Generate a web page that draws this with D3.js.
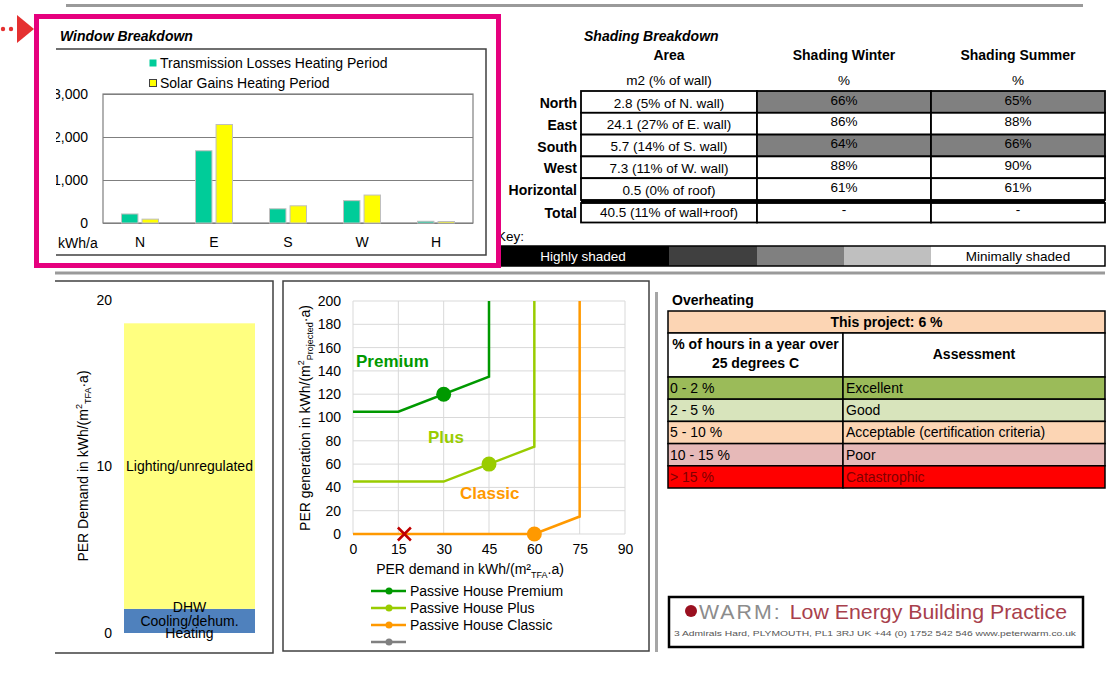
<!DOCTYPE html>
<html><head><meta charset="utf-8">
<script src="https://cdn.jsdelivr.net/npm/d3@7"></script>
<style>
html,body{margin:0;padding:0;background:#fff;}
svg{display:block;font-family:"Liberation Sans",Arial,sans-serif;}
</style></head><body>
<svg id="c" width="1120" height="679"></svg>
<script>
// ---------------- DATA ----------------
const windowCategories = ["N","E","S","W","H"];
const windowSeries = ["Transmission Losses Heating Period","Solar Gains Heating Period"];
const transmissionLosses = [210,1680,330,520,40];
const solarGains = [90,2290,400,650,35];
const windowTicks = [0,1000,2000,3000];

const shadingRows = ["North","East","South","West","Horizontal"];
const shadingArea = ["2.8 (5% of N. wall)","24.1 (27% of E. wall)","5.7 (14% of S. wall)","7.3 (11% of W. wall)","0.5 (0% of roof)"];
const shadingWinter = [66,86,64,88,61];
const shadingSummer = [65,88,66,90,61];
const shadingWinterLevel = [2,4,2,4,4];
const shadingSummerLevel = [2,4,2,4,4];
const shadingTotal = ["40.5 (11% of wall+roof)","-","-"];
const shadingHeaders = ["Area","Shading Winter","Shading Summer"];
const shadingUnits = ["m2 (% of wall)","%","%"];
const keyLabels = ["Highly shaded","","","","Minimally shaded"];
const keyColors = ["#000000","#404040","#808080","#bfbfbf","#ffffff"];

const perDemandCategories = ["Heating","Cooling/dehum.","DHW","Lighting/unregulated"];
const perDemandValues = [0,1.45,0,17.15];
const perDemandColors = ["#c0504d","#4f81bd","#9bbb59","#ffff80"];
const perDemandTicks = [0,10,20];

const premiumDemand = [0,15,45,45];
const premiumGeneration = [105,105,135,200];
const plusDemand = [0,30,60,60];
const plusGeneration = [45,45,75,200];
const classicDemand = [0,60,75,75];
const classicGeneration = [0,0,15,200];
const classMarkerDemand = [30,45,60];
const classMarkerGeneration = [120,60,0];
const projectDemand = [17];
const projectGeneration = [0];
const perXTicks = [0,15,30,45,60,75,90];
const perYTicks = [0,20,40,60,80,100,120,140,160,180,200];
const perClasses = ["Premium","Plus","Classic"];
const perLegend = ["Passive House Premium","Passive House Plus","Passive House Classic",""];

const overheatingProject = 6;
const overheatingRanges = ["0 - 2 %","2 - 5 %","5 - 10 %","10 - 15 %","> 15 %"];
const overheatingAssessment = ["Excellent","Good","Acceptable (certification criteria)","Poor","Catastrophic"];
const overheatingColors = ["#9bbb59","#d8e4bc","#fcd5b4","#e6b9b8","#ff0000"];

// ---------------- DRAW ----------------
const svg = d3.select("#c");
const F = '"Liberation Sans",Arial,sans-serif';

// separators
svg.append("line").attr("x1",66).attr("x2",1083).attr("y1",5.5).attr("y2",5.5).attr("stroke","#9a9a9a").attr("stroke-width",3);
svg.append("line").attr("x1",55).attr("x2",1105).attr("y1",273).attr("y2",273).attr("stroke","#9a9a9a").attr("stroke-width",3);
svg.append("line").attr("x1",656.5).attr("x2",656.5).attr("y1",292).attr("y2",652).attr("stroke","#a6a6a6").attr("stroke-width",3);

// ===== Window breakdown =====
svg.append("defs").append("clipPath").attr("id","wclip").append("rect").attr("x",56).attr("y",0).attr("width",500).attr("height",300);
const wg = svg.append("g").attr("clip-path","url(#wclip)");
wg.append("path").attr("d","M55,49H486V255H55").attr("fill","none").attr("stroke","#404040").attr("stroke-width",1.5);
svg.append("text").attr("x",60).attr("y",41).attr("font-size",14).attr("font-weight","bold").attr("font-style","italic").text("Window Breakdown");

const wx0 = d3.scaleBand().domain(windowCategories).range([103,473]);
const wx1 = d3.scaleBand().domain(windowSeries).range([wx0.bandwidth()*0.25, wx0.bandwidth()*0.75]).paddingInner(0.2);
const wy = d3.scaleLinear().domain([0,3000]).range([223,94]);
const wColors = ["#00cc99","#ffff00"];

const wyAxis = wg.append("g").attr("transform","translate(103,0)")
  .call(d3.axisLeft(wy).tickValues(windowTicks).tickSize(-370).tickPadding(15).tickFormat(d3.format(",")));
wyAxis.select(".domain").remove();
wyAxis.selectAll("line").attr("stroke","#7f7f7f");
wyAxis.selectAll("text").attr("font-size",14).attr("font-family",F).attr("fill","#000");
wg.append("rect").attr("x",103).attr("y",94).attr("width",370).attr("height",129).attr("fill","none").attr("stroke","#7f7f7f").attr("stroke-width",1.2);

const wData = windowCategories.map((c,i)=>({cat:c, vals:[transmissionLosses[i], solarGains[i]]}));
wg.selectAll("g.wbar").data(wData).join("g").attr("class","wbar")
  .attr("transform",d=>`translate(${wx0(d.cat)},0)`)
  .selectAll("rect").data(d=>d.vals.map((v,j)=>({s:windowSeries[j],v,j}))).join("rect")
  .attr("x",d=>wx1(d.s)).attr("width",wx1.bandwidth())
  .attr("y",d=>wy(d.v)).attr("height",d=>wy(0)-wy(d.v))
  .attr("fill",d=>wColors[d.j]).attr("stroke","#bfbfbf").attr("stroke-width",1);

const wxAxis = wg.append("g").attr("transform","translate(0,223)").call(d3.axisBottom(wx0).tickSize(0).tickPadding(14));
wxAxis.select(".domain").remove();
wxAxis.selectAll("text").attr("font-size",14).attr("font-family",F).attr("fill","#000");
wg.append("text").attr("x",58).attr("y",248).attr("font-size",14).text("kWh/a");

windowSeries.forEach((s,i)=>{
  wg.append("rect").attr("x",149.5).attr("y",59.5+20*i).attr("width",7).attr("height",7)
    .attr("fill",wColors[i]).attr("stroke",i?"#404040":"none").attr("stroke-width",1);
  wg.append("text").attr("x",160).attr("y",68+20*i).attr("font-size",14).text(s);
});

// ===== Shading breakdown =====
const sCols = [581,757,931,1105];
const sy = d3.scaleBand().domain(shadingRows).range([91,200]);
svg.append("text").attr("x",584).attr("y",41).attr("font-size",14).attr("font-weight","bold").attr("font-style","italic").text("Shading Breakdown");
shadingHeaders.forEach((h,i)=>{
  const cx=(sCols[i]+sCols[i+1])/2;
  svg.append("text").attr("x",cx).attr("y",60).attr("text-anchor","middle").attr("font-size",14).attr("font-weight","bold").text(h);
  svg.append("text").attr("x",cx).attr("y",85).attr("text-anchor","middle").attr("font-size",13.5).text(shadingUnits[i]);
});
const sData = shadingRows.map((r,i)=>({r, cells:[
  {t:shadingArea[i], fill:"#fff", top:false},
  {t:shadingWinter[i]+"%", fill:keyColors[shadingWinterLevel[i]], top:true},
  {t:shadingSummer[i]+"%", fill:keyColors[shadingSummerLevel[i]], top:true}]}));
const sRow = svg.selectAll("g.srow").data(sData).join("g").attr("class","srow").attr("transform",d=>`translate(0,${sy(d.r)})`);
sRow.append("text").attr("x",577).attr("y",17).attr("text-anchor","end").attr("font-size",14).attr("font-weight","bold").text(d=>d.r);
sRow.selectAll("g.cell").data(d=>d.cells).join("g").attr("class","cell").each(function(c,j){
  const g=d3.select(this);
  g.append("rect").attr("x",sCols[j]).attr("y",0).attr("width",sCols[j+1]-sCols[j]).attr("height",sy.bandwidth())
    .attr("fill",c.fill).attr("stroke","#000").attr("stroke-width",1.8);
  g.append("text").attr("x",(sCols[j]+sCols[j+1])/2).attr("y",c.top?13.5:16.5).attr("text-anchor","middle").attr("font-size",13.5).text(c.t);
});
// total row
svg.append("text").attr("x",577).attr("y",218).attr("text-anchor","end").attr("font-size",14).attr("font-weight","bold").text("Total");
shadingTotal.forEach((t,j)=>{
  svg.append("rect").attr("x",sCols[j]).attr("y",203).attr("width",sCols[j+1]-sCols[j]).attr("height",19.5).attr("fill","#fff").attr("stroke","#000").attr("stroke-width",1.8);
  svg.append("text").attr("x",(sCols[j]+sCols[j+1])/2).attr("y",j?214:217).attr("text-anchor","middle").attr("font-size",13.5).text(t);
});
svg.append("line").attr("x1",581).attr("x2",1105).attr("y1",201.5).attr("y2",201.5).attr("stroke","#000").attr("stroke-width",3.5);

// key
svg.append("text").attr("x",497).attr("y",241).attr("font-size",13.5).text("Key:");
const keyEdges=[497,669,757,844,931,1105];
keyColors.forEach((c,i)=>{
  svg.append("rect").attr("x",keyEdges[i]).attr("y",246).attr("width",keyEdges[i+1]-keyEdges[i]).attr("height",20).attr("fill",c);
  if(keyLabels[i]) svg.append("text").attr("x",(keyEdges[i]+keyEdges[i+1])/2).attr("y",261).attr("text-anchor","middle")
    .attr("font-size",13.5).attr("fill",i===0?"#fff":"#000").text(keyLabels[i]);
});
svg.append("rect").attr("x",497).attr("y",246).attr("width",608).attr("height",20).attr("fill","none").attr("stroke","#000").attr("stroke-width",1.5);

// pink highlight + arrow
svg.append("rect").attr("x",36.5).attr("y",16.5).attr("width",462).attr("height",249).attr("fill","none").attr("stroke","#e6007e").attr("stroke-width",5);
svg.append("circle").attr("cx",3).attr("cy",29).attr("r",2.2).attr("fill","#e53030");
svg.append("circle").attr("cx",11).attr("cy",29).attr("r",2.2).attr("fill","#e53030");
svg.append("path").attr("d","M17,15L34,29L17,43Z").attr("fill","#e53030");

// ===== PER demand stacked bar =====
svg.append("path").attr("d","M55,281H273V653H55").attr("fill","none").attr("stroke","#404040").attr("stroke-width",1.5);
const px = d3.scaleBand().domain(["PER"]).range([124,255]);
const py = d3.scaleLinear().domain([0,20]).range([633,300]);
const perRow = {};
perDemandCategories.forEach((c,i)=>perRow[c]=perDemandValues[i]);
const stacked = d3.stack().keys(perDemandCategories)([perRow]);
svg.selectAll("rect.per").data(stacked).join("rect").attr("class","per")
  .attr("x",px("PER")).attr("width",px.bandwidth())
  .attr("y",d=>py(d[0][1])).attr("height",d=>py(d[0][0])-py(d[0][1]))
  .attr("fill",(d,i)=>perDemandColors[i]);
svg.selectAll("text.perlab").data(stacked).join("text").attr("class","perlab")
  .attr("x",px("PER")+px.bandwidth()/2).attr("y",d=>py((d[0][0]+d[0][1])/2)).attr("dy",(d,i)=>i===2?"0.2em":"0.36em")
  .attr("text-anchor","middle").attr("font-size",14).attr("fill","#000").text(d=>d.key);
const pyAxis = svg.append("g").attr("transform","translate(124,0)").call(d3.axisLeft(py).tickValues(perDemandTicks).tickSize(0).tickPadding(12));
pyAxis.select(".domain").remove();
pyAxis.selectAll("text").attr("font-size",14).attr("font-family",F).attr("fill","#000");
const pt = svg.append("text").attr("transform","translate(88,466) rotate(-90)").attr("text-anchor","middle").attr("font-size",14);
pt.append("tspan").text("PER Demand in kWh/(m");
pt.append("tspan").attr("font-size",9).attr("dy",-6).text("2");
pt.append("tspan").attr("font-size",9).attr("dy",9).text("TFA");
pt.append("tspan").attr("dy",-3).text("·a)");

// ===== PER generation chart =====
svg.append("rect").attr("x",283).attr("y",281).attr("width",366).attr("height",370).attr("fill","none").attr("stroke","#404040").attr("stroke-width",1.5);
const gx = d3.scaleLinear().domain([0,90]).range([353,625]);
const gy = d3.scaleLinear().domain([0,200]).range([534,301]);
const grid = svg.append("g");
grid.selectAll("line.v").data(perXTicks).join("line").attr("x1",d=>gx(d)).attr("x2",d=>gx(d)).attr("y1",gy(0)).attr("y2",gy(200)).attr("stroke","#d9d9d9");
grid.selectAll("line.h").data(perYTicks).join("line").attr("y1",d=>gy(d)).attr("y2",d=>gy(d)).attr("x1",gx(0)).attr("x2",gx(90)).attr("stroke","#d9d9d9");
const gxa = svg.append("g").attr("transform",`translate(0,${gy(0)})`).call(d3.axisBottom(gx).tickValues(perXTicks).tickSize(0).tickPadding(10));
gxa.select(".domain").remove();
gxa.selectAll("text").attr("font-size",14).attr("font-family",F).attr("fill","#000");
const gya = svg.append("g").attr("transform",`translate(${gx(0)},0)`).call(d3.axisLeft(gy).tickValues(perYTicks).tickSize(0).tickPadding(12));
gya.select(".domain").remove();
gya.selectAll("text").attr("font-size",14).attr("font-family",F).attr("fill","#000");

const classColors = ["#009900","#99cc00","#ff9900"];
const lines = [[premiumDemand,premiumGeneration],[plusDemand,plusGeneration],[classicDemand,classicGeneration]];
const lineGen = d3.line().x(d=>gx(d[0])).y(d=>gy(d[1]));
lines.forEach((l,i)=>{
  svg.append("path").attr("d",lineGen(l[0].map((x,k)=>[x,l[1][k]]))).attr("fill","none").attr("stroke",classColors[i]).attr("stroke-width",2.5);
});
svg.selectAll("circle.cm").data(classMarkerDemand.map((x,i)=>[x,classMarkerGeneration[i]])).join("circle").attr("class","cm")
  .attr("cx",d=>gx(d[0])).attr("cy",d=>gy(d[1])).attr("r",7.5).attr("fill",(d,i)=>classColors[i]);
projectDemand.forEach((x,i)=>{
  const cx=gx(x), cy=gy(projectGeneration[i]);
  svg.append("path").attr("d",`M${cx-6.5},${cy-6.5}L${cx+6.5},${cy+6.5}M${cx-6.5},${cy+6.5}L${cx+6.5},${cy-6.5}`).attr("stroke","#c00000").attr("stroke-width",2.5);
});
const classLabelPos=[[356,367],[428,443],[460,499]];
perClasses.forEach((c,i)=>{
  svg.append("text").attr("x",classLabelPos[i][0]).attr("y",classLabelPos[i][1]).attr("font-size",17).attr("font-weight","bold").attr("fill",classColors[i]).text(c);
});
const gxt = svg.append("text").attr("x",470).attr("y",574).attr("text-anchor","middle").attr("font-size",14);
gxt.append("tspan").text("PER demand in kWh/(m²");
gxt.append("tspan").attr("font-size",9).attr("dy",4).text("TFA");
gxt.append("tspan").attr("dy",-4).text(".a)");
const gyt = svg.append("text").attr("transform","translate(310,418) rotate(-90)").attr("text-anchor","middle").attr("font-size",14);
gyt.append("tspan").text("PER generation in kWh/(m");
gyt.append("tspan").attr("font-size",9).attr("dy",-6).text("2");
gyt.append("tspan").attr("font-size",9).attr("dy",9).text("Projected");
gyt.append("tspan").attr("dy",-3).text("·a)");
const legColors = classColors.concat(["#808080"]);
perLegend.forEach((s,i)=>{
  const y=591+17*i;
  svg.append("line").attr("x1",371).attr("x2",406).attr("y1",y).attr("y2",y).attr("stroke",legColors[i]).attr("stroke-width",2.5);
  svg.append("circle").attr("cx",389).attr("cy",y).attr("r",3.5).attr("fill",legColors[i]);
  svg.append("text").attr("x",410).attr("y",y+5).attr("font-size",14).text(s);
});

// ===== Overheating =====
svg.append("text").attr("x",672).attr("y",305).attr("font-size",14).attr("font-weight","bold").text("Overheating");
const oL=668, oM=843, oR=1105;
svg.append("rect").attr("x",oL).attr("y",311).attr("width",oR-oL).attr("height",22).attr("fill","#fcd5b4").attr("stroke","#000").attr("stroke-width",1.5);
svg.append("text").attr("x",(oL+oR)/2).attr("y",327).attr("text-anchor","middle").attr("font-size",14).attr("font-weight","bold").text(`This project: ${overheatingProject} %`);
svg.append("rect").attr("x",oL).attr("y",333).attr("width",oM-oL).attr("height",44).attr("fill","#fff").attr("stroke","#000").attr("stroke-width",1.5);
svg.append("rect").attr("x",oM).attr("y",333).attr("width",oR-oM).attr("height",44).attr("fill","#fff").attr("stroke","#000").attr("stroke-width",1.5);
svg.append("text").attr("x",(oL+oM)/2).attr("y",349).attr("text-anchor","middle").attr("font-size",14).attr("font-weight","bold").text("% of hours in a year over");
svg.append("text").attr("x",(oL+oM)/2).attr("y",368).attr("text-anchor","middle").attr("font-size",14).attr("font-weight","bold").text("25 degrees C");
svg.append("text").attr("x",(oM+oR)/2).attr("y",359).attr("text-anchor","middle").attr("font-size",14).attr("font-weight","bold").text("Assessment");
const oy = d3.scaleBand().domain(overheatingRanges).range([377,488]);
const oRows = svg.selectAll("g.orow").data(overheatingRanges.map((r,i)=>({r,a:overheatingAssessment[i],c:overheatingColors[i],i}))).join("g").attr("class","orow")
  .attr("transform",d=>`translate(0,${oy(d.r)})`);
oRows.append("rect").attr("x",oL).attr("width",oM-oL).attr("height",oy.bandwidth()).attr("fill",d=>d.c).attr("stroke","#000").attr("stroke-width",1.5);
oRows.append("rect").attr("x",oM).attr("width",oR-oM).attr("height",oy.bandwidth()).attr("fill",d=>d.c).attr("stroke","#000").attr("stroke-width",1.5);
oRows.append("text").attr("x",oL+2).attr("y",16).attr("font-size",14).attr("fill",d=>d.i===4?"#800000":"#000").text(d=>d.r);
oRows.append("text").attr("x",oM+3).attr("y",16).attr("font-size",14).attr("fill",d=>d.i===4?"#800000":"#000").text(d=>d.a);

// ===== Logo =====
svg.append("rect").attr("x",669).attr("y",597).attr("width",414).attr("height",50).attr("fill","#fff").attr("stroke","#000").attr("stroke-width",2.5);
svg.append("circle").attr("cx",691).attr("cy",611).attr("r",6).attr("fill","#9a1020");
const lt = svg.append("text").attr("x",699).attr("y",619).attr("font-size",21).attr("textLength",368).attr("lengthAdjust","spacingAndGlyphs");
lt.append("tspan").attr("fill","#8c8c8c").attr("letter-spacing",2).text("WARM: ");
lt.append("tspan").attr("fill","#a8404c").text("Low Energy Building Practice");
svg.append("text").attr("x",674).attr("y",636).attr("font-size",7.5).attr("fill","#555").attr("textLength",402).attr("lengthAdjust","spacingAndGlyphs")
  .text("3 Admirals Hard,  PLYMOUTH,  PL1 3RJ  UK      +44 (0) 1752 542 546        www.peterwarm.co.uk");
</script>
</body></html>
